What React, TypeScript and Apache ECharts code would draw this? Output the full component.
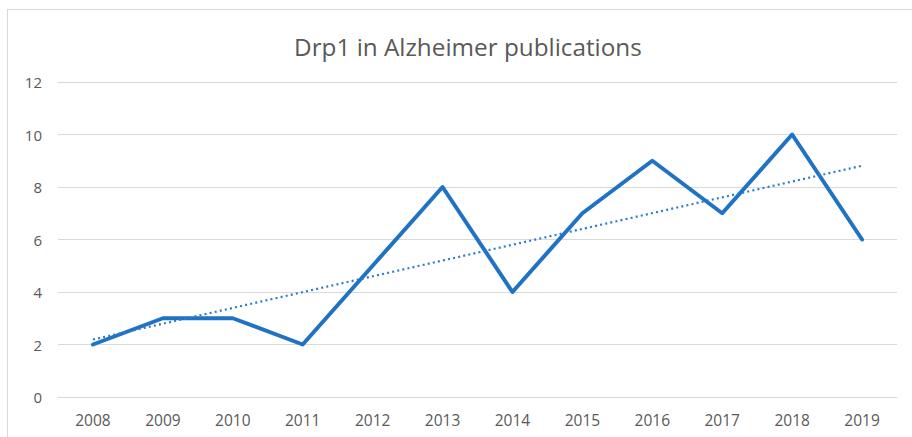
import React, { useEffect, useRef } from "react";
import * as echarts from "echarts";

const title = "Drp1 in Alzheimer publications";
const years = ["2008", "2009", "2010", "2011", "2012", "2013", "2014", "2015", "2016", "2017", "2018", "2019"];
const publications = [2, 3, 3, 2, 5, 8, 4, 7, 9, 7, 10, 6];
// linear trendline endpoints
const trendYears = ["2008", "2019"];
const trendValues = [2.19, 8.81];

export default function App() {
  const ref = useRef<HTMLDivElement>(null);
  useEffect(() => {
    if (!ref.current) return;
    const chart = echarts.init(ref.current, null, { renderer: "svg" });
    const font = "'Open Sans', 'Liberation Sans', sans-serif";
    chart.setOption({
      animation: false,
      backgroundColor: "#ffffff",
      title: {
        text: title,
        left: 289,
        top: 29,
        textStyle: { color: "#595959", fontSize: 24.3, fontWeight: "normal", fontFamily: font },
      },
      grid: { left: 58, right: 15, top: 82, bottom: 40, containLabel: false },
      xAxis: {
        type: "category",
        data: years,
        boundaryGap: true,
        axisLine: { lineStyle: { color: "#d9d9d9", width: 1 } },
        axisTick: { show: false },
        axisLabel: { color: "#595959", fontSize: 15.5, fontFamily: font, margin: 15 },
      },
      yAxis: {
        type: "value",
        min: 0,
        max: 12,
        interval: 2,
        axisLine: { show: false },
        axisTick: { show: false },
        axisLabel: { color: "#595959", fontSize: 15, fontFamily: font, margin: 16 },
        splitLine: { lineStyle: { color: "#d9d9d9", width: 1 } },
      },
      series: [
        {
          type: "line",
          data: publications,
          symbol: "none",
          lineStyle: { color: "#1f72c4", width: 4, join: "round", cap: "round" },
          z: 3,
        },
        {
          type: "line",
          data: trendYears.map((y, i) => [y, trendValues[i]]),
          symbol: "none",
          lineStyle: { color: "#2b7bcf", width: 2.2, type: [2, 3.2] },
          z: 4,
        },
      ],
    });
    return () => chart.dispose();
  }, []);
  return (
    <div style={{ position: "fixed", left: 0, top: 0, width: 912, height: 437, background: "#fff" }}>
      <div ref={ref} style={{ position: "absolute", left: 0, top: 0, width: 912, height: 437 }} />
      <div
        style={{
          position: "absolute",
          left: 7,
          top: 9,
          width: 920,
          height: 440,
          border: "1px solid #d9d9d9",
          pointerEvents: "none",
        }}
      />
    </div>
  );
}
